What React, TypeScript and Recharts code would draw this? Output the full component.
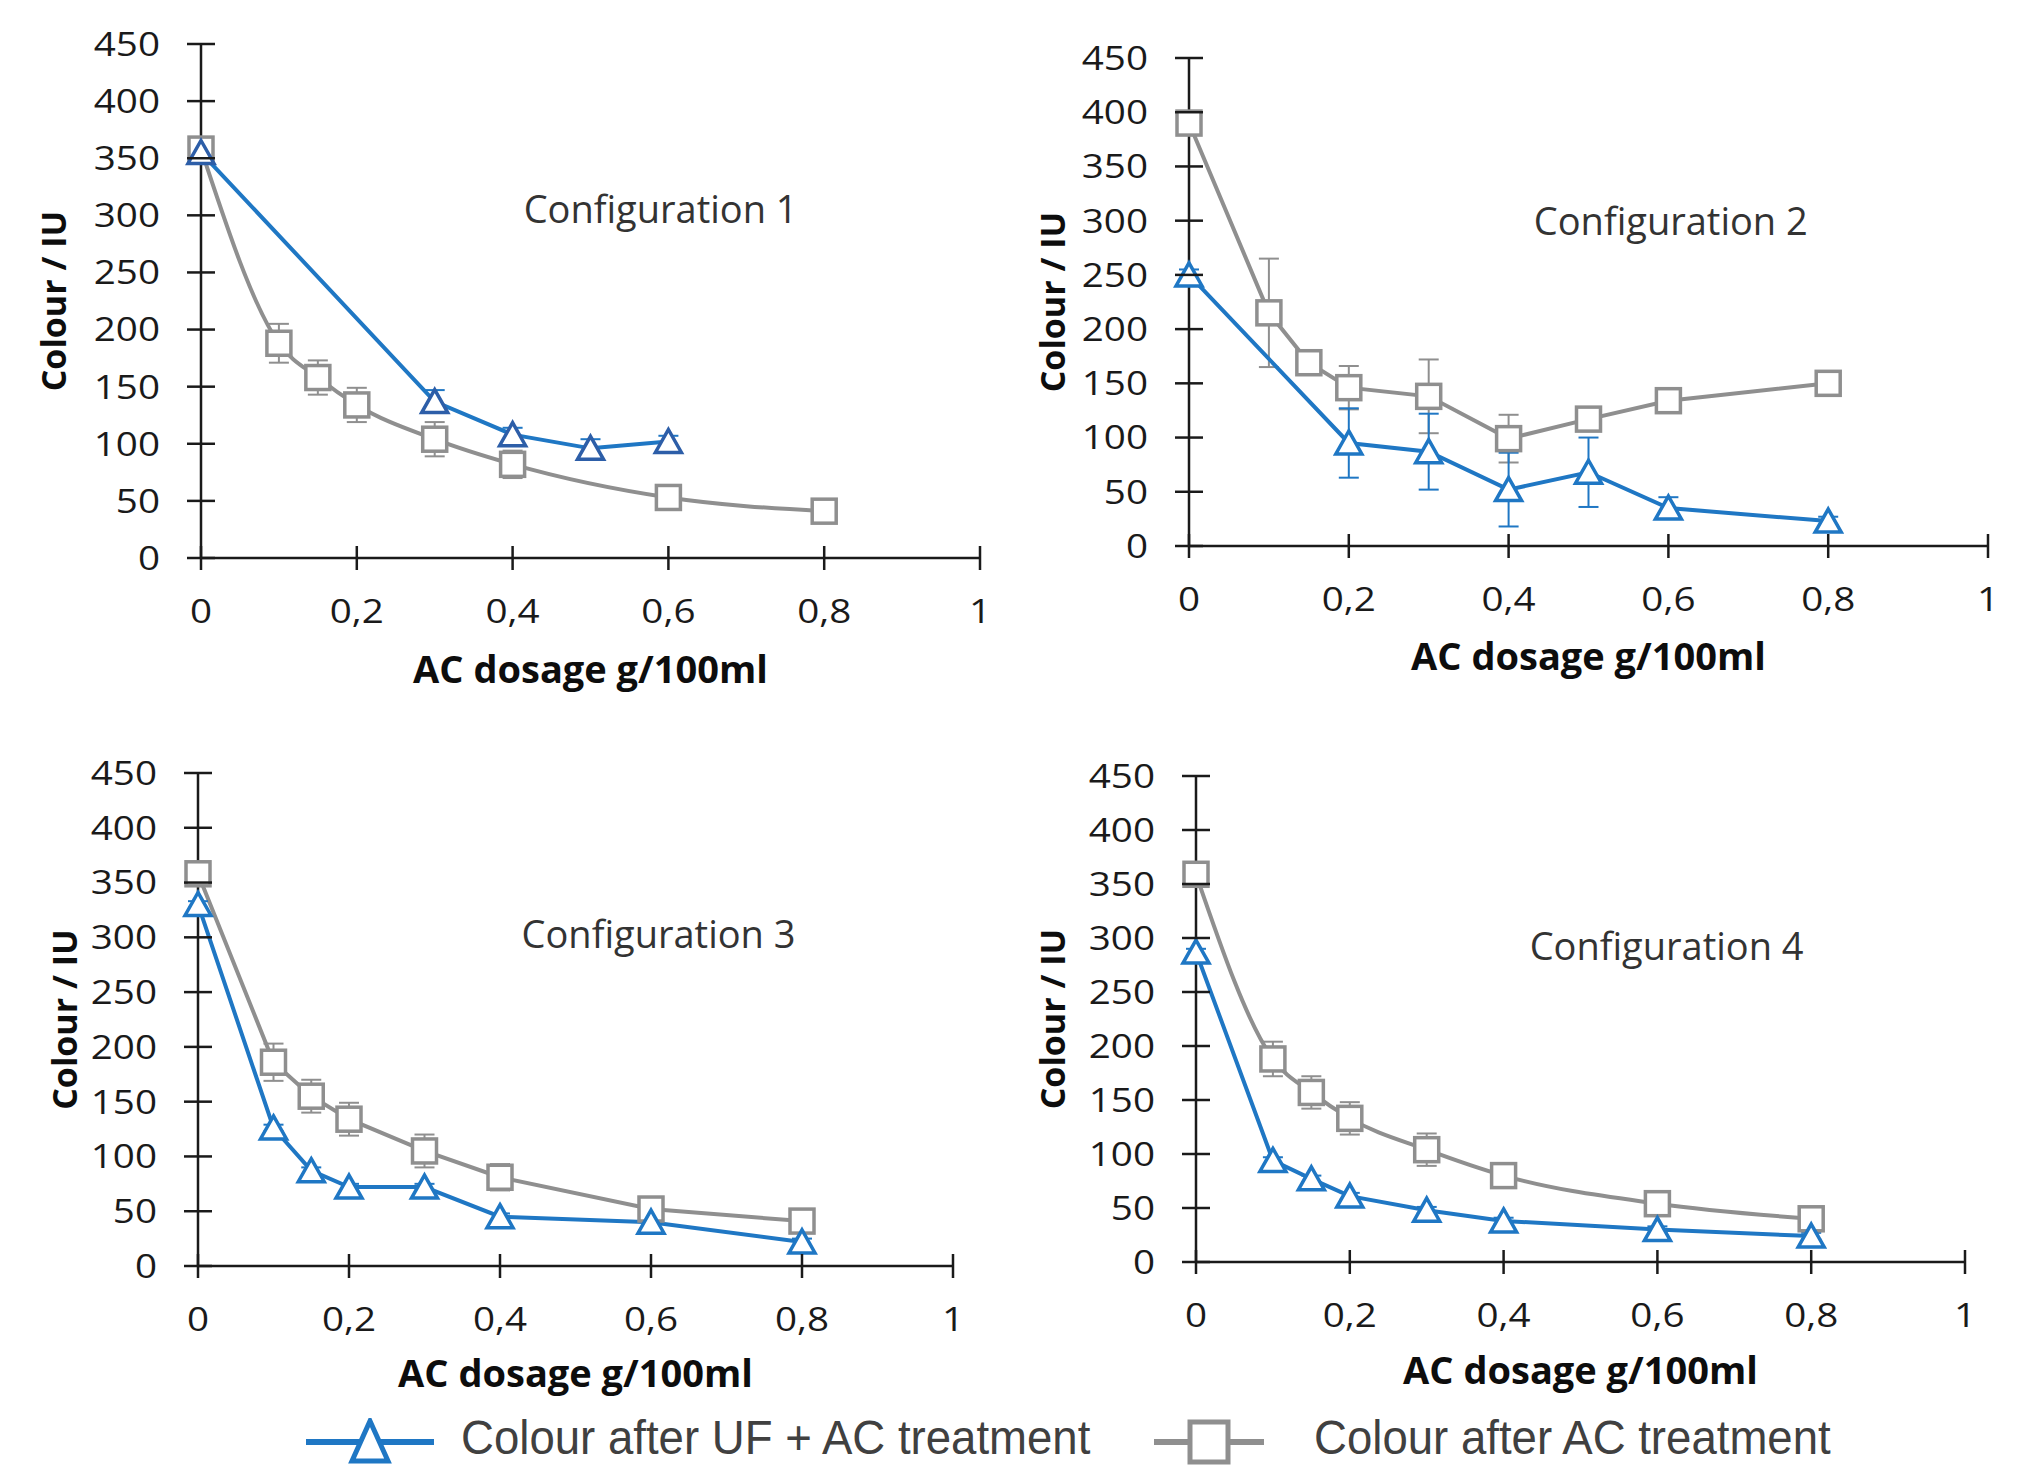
import React from "react";
import { LineChart, Line, XAxis, YAxis, ErrorBar, ReferenceDot } from "recharts";

// text
const panelTitles = ["Configuration 1", "Configuration 2", "Configuration 3", "Configuration 4"];
const legendLabels = ["Colour after UF + AC treatment", "Colour after AC treatment"];
const xAxisTitle = "AC dosage g/100ml";
const yAxisTitle = "Colour / IU";

const xTicks = [0, 0.2, 0.4, 0.6, 0.8, 1];
const yTicks = [0, 50, 100, 150, 200, 250, 300, 350, 400, 450];

// configuration 1
const c1UfDose = [0, 0.3, 0.4, 0.5, 0.6];
const c1UfColour = [355, 137, 108, 96, 102];
const c1UfErr = [4, 10, 6, 8, 5];
const c1AcDose = [0, 0.1, 0.15, 0.2, 0.3, 0.4, 0.6, 0.8];
const c1AcColour = [358, 188, 158, 134, 104, 82, 53, 41];
const c1AcErr = [5, 17, 15, 15, 15, 12, 4, 5];

// configuration 2
const c2UfDose = [0, 0.2, 0.3, 0.4, 0.5, 0.6, 0.8];
const c2UfColour = [250, 95, 87, 52, 68, 35, 23];
const c2UfErr = [5, 32, 35, 34, 32, 10, 4];
const c2AcDose = [0, 0.1, 0.15, 0.2, 0.3, 0.4, 0.5, 0.6, 0.8];
const c2AcColour = [390, 215, 169, 146, 138, 99, 117, 134, 150];
const c2AcErr = [5, 50, 4, 20, 34, 22, 6, 4, 3];

// configuration 3
const c3UfDose = [0, 0.1, 0.15, 0.2, 0.3, 0.4, 0.6, 0.8];
const c3UfColour = [330, 126, 87, 72, 72, 45, 40, 22];
const c3UfErr = [3, 3, 3, 3, 3, 3, 4, 3];
const c3AcDose = [0, 0.1, 0.15, 0.2, 0.3, 0.4, 0.6, 0.8];
const c3AcColour = [358, 186, 155, 134, 105, 81, 52, 41];
const c3AcErr = [4, 17, 15, 15, 15, 12, 4, 5];

// configuration 4
const c4UfDose = [0, 0.1, 0.15, 0.2, 0.3, 0.4, 0.6, 0.8];
const c4UfColour = [287, 94, 77, 61, 48, 38, 30, 24];
const c4UfErr = [3, 3, 3, 3, 3, 3, 3, 3];
const c4AcDose = [0, 0.1, 0.15, 0.2, 0.3, 0.4, 0.6, 0.8];
const c4AcColour = [359, 188, 157, 133, 104, 80, 54, 40];
const c4AcErr = [4, 16, 15, 15, 15, 10, 4, 5];

const toRows = (dose: number[], colour: number[], err: number[]) =>
  dose.map((x, i) => ({ x, y: colour[i], err: err[i] }));

const series = [
  { uf: toRows(c1UfDose, c1UfColour, c1UfErr), ac: toRows(c1AcDose, c1AcColour, c1AcErr) },
  { uf: toRows(c2UfDose, c2UfColour, c2UfErr), ac: toRows(c2AcDose, c2AcColour, c2AcErr) },
  { uf: toRows(c3UfDose, c3UfColour, c3UfErr), ac: toRows(c3AcDose, c3AcColour, c3AcErr) },
  { uf: toRows(c4UfDose, c4UfColour, c4UfErr), ac: toRows(c4AcDose, c4AcColour, c4AcErr) },
];

const BLUE = "#1f77c4";
const GRAY = "#8f8f8f";
const AXIS = "#1a1a1a";
const FONT = "'Open Sans', 'Noto Sans', sans-serif";

const X_AXIS_H = 130;
const Y_GAP = 41;
const X_GAP = 53;

// page placement of each panel
const panels = [
  { box: { x: 0, y: 0, w: 1013, h: 720 }, plot: { l: 201, t: 44, r: 980, b: 558 }, yTitleX: 54, xTitleDy: 111, titleAt: [0.59, 305], ufCurve: "linear", acCurve: "monotone", ufMarker: "#2d5ea8" },
  { box: { x: 1013, y: 0, w: 1013, h: 720 }, plot: { l: 1189, t: 58, r: 1988, b: 546 }, yTitleX: 40, xTitleDy: 110, titleAt: [0.603, 299], ufCurve: "linear", acCurve: "linear", ufMarker: BLUE },
  { box: { x: 0, y: 720, w: 1013, h: 680 }, plot: { l: 198, t: 773, r: 953, b: 1266 }, yTitleX: 65, xTitleDy: 107, titleAt: [0.61, 303], ufCurve: "linear", acCurve: "linear", ufMarker: BLUE },
  { box: { x: 1013, y: 720, w: 1013, h: 680 }, plot: { l: 1196, t: 776, r: 1965, b: 1262 }, yTitleX: 40, xTitleDy: 108, titleAt: [0.612, 292], ufCurve: "linear", acCurve: "monotone", ufMarker: BLUE },
];

const fmt = (v: number) => String(v).replace(".", ",");

// tick labels in the source look horizontally stretched
const YTick = (props: any) => {
  const { x, y, payload } = props;
  const ax = x + Y_GAP;
  return (
    <g>
      <line x1={ax - 14} x2={ax + 14} y1={y} y2={y} stroke={AXIS} strokeWidth={2.5} />
      <text transform={`translate(${x},${y}) scale(1.17,1)`} dy="0.36em" textAnchor="end" fontSize={33} fontFamily={FONT} fill={AXIS}>
        {payload.value}
      </text>
    </g>
  );
};

const XTick = (props: any) => {
  const { x, y, payload } = props;
  const ay = y - X_GAP;
  return (
    <g>
      <line x1={x} x2={x} y1={ay - 12} y2={ay + 12} stroke={AXIS} strokeWidth={2.5} />
      <text transform={`translate(${x},${y}) scale(1.17,1)`} dy="0.36em" textAnchor="middle" fontSize={33} fontFamily={FONT} fill={AXIS}>
        {fmt(payload.value)}
      </text>
    </g>
  );
};

const triangleDot = (color: string) => (p: any) => {
  const { cx, cy, index } = p;
  if (cx == null || cy == null) return <g key={index} />;
  return (
    <path
      key={index}
      d={`M${cx},${cy - 12} L${cx + 13},${cy + 11} L${cx - 13},${cy + 11} Z`}
      fill="#fff"
      stroke={color}
      strokeWidth={3.5}
    />
  );
};

const squareDot = (color: string) => (p: any) => {
  const { cx, cy, index } = p;
  if (cx == null || cy == null) return <g key={index} />;
  return <rect key={index} x={cx - 12} y={cy - 12} width={24} height={24} fill="#fff" stroke={color} strokeWidth={3.5} />;
};

const Panel = ({ idx }: { idx: number }) => {
  const p = panels[idx];
  const s = series[idx];
  const { box, plot } = p;
  const margin = {
    top: plot.t - box.y,
    left: 0,
    right: box.x + box.w - plot.r,
    bottom: box.h - (plot.b - box.y) - X_AXIS_H,
  };
  return (
    <div style={{ position: "absolute", left: box.x, top: box.y }}>
      <LineChart width={box.w} height={box.h} margin={margin}>
        <XAxis
          type="number"
          dataKey="x"
          domain={[0, 1]}
          ticks={xTicks}
          interval={0}
          height={X_AXIS_H}
          tickSize={0}
          tickMargin={X_GAP}
          tickLine={false}
          axisLine={{ stroke: AXIS, strokeWidth: 2.5 }}
          tick={XTick}
          label={{
            value: xAxisTitle,
            position: "insideTop",
            offset: p.xTitleDy - 13,
            style: { fontSize: 38, fontWeight: 700, fontFamily: FONT, fill: "#0d0d0d" },
          }}
        />
        <YAxis
          type="number"
          domain={[0, 450]}
          ticks={yTicks}
          interval={0}
          width={plot.l - box.x}
          tickSize={0}
          tickMargin={Y_GAP}
          tickLine={false}
          axisLine={{ stroke: AXIS, strokeWidth: 2.5 }}
          tick={YTick}
          label={{
            value: yAxisTitle,
            angle: -90,
            position: "insideLeft",
            offset: p.yTitleX,
            style: { textAnchor: "middle", fontSize: 34, fontWeight: 700, fontFamily: FONT, fill: "#0d0d0d" },
          }}
        />
        <ReferenceDot
          x={p.titleAt[0]}
          y={p.titleAt[1]}
          r={0}
          stroke="none"
          fill="none"
          label={{ value: panelTitles[idx], position: "center", fontSize: 38, fontFamily: FONT, fill: "#333" }}
        />
        <Line
          data={s.ac}
          dataKey="y"
          type={p.acCurve as any}
          stroke={GRAY}
          strokeWidth={4}
          dot={squareDot(GRAY)}
          activeDot={false}
          isAnimationActive={false}
        >
          <ErrorBar dataKey="err" direction="y" width={10} stroke={GRAY} strokeWidth={2} isAnimationActive={false} />
        </Line>
        <Line
          data={s.uf}
          dataKey="y"
          type={p.ufCurve as any}
          stroke={BLUE}
          strokeWidth={4}
          dot={triangleDot(p.ufMarker)}
          activeDot={false}
          isAnimationActive={false}
        >
          <ErrorBar dataKey="err" direction="y" width={10} stroke={BLUE} strokeWidth={2} isAnimationActive={false} />
        </Line>
      </LineChart>
    </div>
  );
};

const legendText: React.CSSProperties = {
  position: "absolute",
  top: 1437,
  transform: "translateY(-50%) scaleX(0.93)",
  transformOrigin: "left center",
  fontFamily: "'Liberation Sans Narrow', 'Arial Narrow', 'Liberation Sans', sans-serif",
  fontSize: 49,
  color: "#404040",
  whiteSpace: "nowrap",
  lineHeight: 1,
};

export default function App() {
  return (
    <div style={{ position: "absolute", left: 0, top: 0, width: 2026, height: 1465, background: "#fff", overflow: "hidden" }}>
      {panels.map((_, i) => (
        <Panel key={i} idx={i} />
      ))}
      <svg style={{ position: "absolute", left: 300, top: 1418 }} width={140} height={50}>
        <line x1={6} x2={134} y1={24} y2={24} stroke={BLUE} strokeWidth={6} />
        <path d="M70,3 L88,43 L52,43 Z" fill="#fff" stroke={BLUE} strokeWidth={5} />
      </svg>
      <div style={{ ...legendText, left: 461 }}>{legendLabels[0]}</div>
      <svg style={{ position: "absolute", left: 1150, top: 1418 }} width={120} height={50}>
        <line x1={4} x2={114} y1={24} y2={24} stroke={GRAY} strokeWidth={6} />
        <rect x={40} y={4} width={38} height={40} fill="#fff" stroke={GRAY} strokeWidth={5} />
      </svg>
      <div style={{ ...legendText, left: 1314 }}>{legendLabels[1]}</div>
    </div>
  );
}
